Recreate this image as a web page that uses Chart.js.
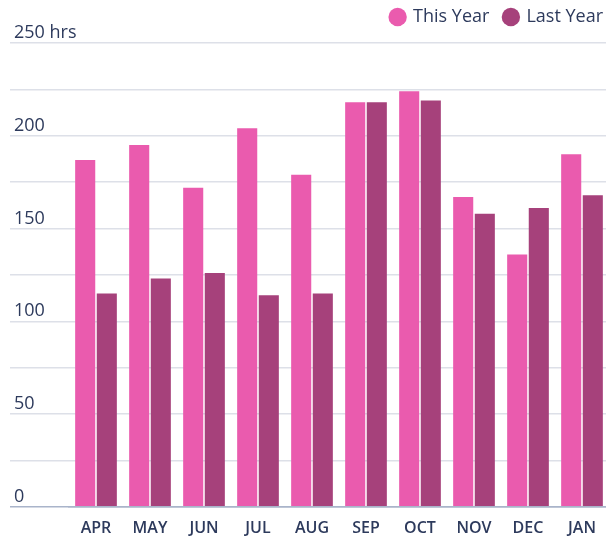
<!DOCTYPE html>
<html>
<head>
<meta charset="utf-8">
<title>Hours by month</title>
<script src="https://cdn.jsdelivr.net/npm/chart.js@4/dist/chart.umd.min.js"></script>
<style>
  html, body { margin: 0; padding: 0; background: #fff; }
  #wrap { width: 606px; height: 539px; position: relative; }
</style>
</head>
<body>
<div id="wrap"><canvas id="hours"></canvas></div>
<script>
// ── Data ──────────────────────────────────────────────────────────
const months = ['APR', 'MAY', 'JUN', 'JUL', 'AUG', 'SEP', 'OCT', 'NOV', 'DEC', 'JAN'];
const thisYear = [187, 195, 172, 204, 179, 218, 224, 167, 136, 190];
const lastYear = [115, 123, 126, 114, 115, 218, 219, 158, 161, 168];
const yMax = 250;
const yStep = 25;

// ── Styles ────────────────────────────────────────────────────────
const PINK = '#ea5bae';
const PLUM = '#a6417b';
const TEXT = '#2d3a5c';
const GRID = '#dde0e8';
const AXIS = '#a9b4ca';
const FONT = "'Open Sans', 'DejaVu Sans', sans-serif";

// small layout tweaks: legend sits tight in the top-right corner,
// and the bar columns run a few px past the right edge like the original
const layoutTweaks = {
  id: 'layoutTweaks',
  afterLayout(chart) {
    const lg = chart.legend;
    if (lg) {
      lg.top -= 7; lg.bottom -= 7;
      lg.left += 12; lg.right += 12;
    }
    const x = chart.scales.x;
    x.right += 3; x.width += 3;
    x.configure();
  },
};

const ctx = document.getElementById('hours').getContext('2d');

new Chart(ctx, {
  type: 'bar',
  data: {
    labels: months,
    datasets: [
      { label: 'This Year', data: thisYear, backgroundColor: PINK, borderWidth: 0 },
      { label: 'Last Year', data: lastYear, backgroundColor: PLUM, borderWidth: 0 },
    ],
  },
  options: {
    responsive: true,
    maintainAspectRatio: false,
    animation: false,
    categoryPercentage: 0.8,
    barPercentage: 0.93,
    layout: { padding: { left: 14, right: 0, top: 0, bottom: -11 } },
    scales: {
      x: {
        grid: { display: false, drawTicks: false },
        border: { display: true, color: AXIS, width: 1.5 },
        ticks: {
          color: TEXT,
          padding: 12,
          font: { family: FONT, size: 16, weight: '600' },
        },
      },
      y: {
        min: 0,
        max: yMax,
        afterFit(scale) { scale.width = 55; },
        border: { display: false },
        grid: {
          color: c => (c.tick && c.tick.value === 0 ? AXIS : GRID),
          lineWidth: 1.5,
          drawTicks: true,
          tickLength: 59,
        },
        ticks: {
          stepSize: yStep,
          mirror: true,
          crossAlign: 'near',
          padding: -55,
          labelOffset: -10,
          color: TEXT,
          font: { family: FONT, size: 18 },
          callback: v => (v % 50 !== 0 ? '' : v === yMax ? v + ' hrs' : v),
        },
      },
    },
    plugins: {
      legend: {
        position: 'top',
        align: 'end',
        labels: {
          usePointStyle: true,
          pointStyle: 'circle',
          boxWidth: 13,
          boxHeight: 13,
          padding: 15,
          color: TEXT,
          font: { family: FONT, size: 18 },
        },
      },
      tooltip: { enabled: false },
    },
  },
  plugins: [layoutTweaks],
});
</script>
</body>
</html>
